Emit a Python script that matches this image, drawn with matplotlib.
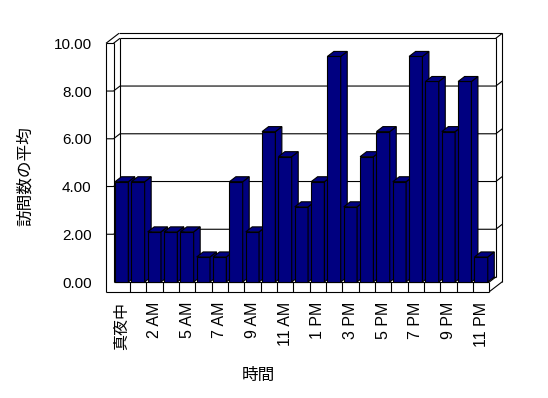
import matplotlib
matplotlib.use('Agg')
import matplotlib.pyplot as plt
from matplotlib.patches import Polygon

plt.rcParams['font.family'] = ['Liberation Sans', 'Noto Sans CJK JP']

hours = ['真夜中', '1 AM', '2 AM', '3 AM', '5 AM', '6 AM', '7 AM', '8 AM', '9 AM',
         '10 AM', '11 AM', '正午', '1 PM', '2 PM', '3 PM', '4 PM', '5 PM', '6 PM',
         '7 PM', '8 PM', '9 PM', '10 PM', '11 PM']
visits = [4.2, 4.2, 2.1, 2.1, 2.1, 1.05, 1.05, 4.2, 2.1, 6.3, 5.25, 3.15,
          4.2, 9.45, 3.15, 5.25, 6.3, 4.2, 9.45, 8.4, 6.3, 8.4, 1.05]
y_ticks = [0, 2, 4, 6, 8, 10]

W, H = 548, 398
fig = plt.figure(figsize=(W / 100, H / 100), dpi=100)
fig.patch.set_facecolor('white')

# plot area in pixels (front plane)
x0_px, x1_px = 113.5, 489.3
y0_px, y1_px = 282.0, 43.3
ax = fig.add_axes([x0_px / W, (H - y0_px) / H, (x1_px - x0_px) / W, (y0_px - y1_px) / H])
n = len(hours)
ymax = 10
ax.set_xlim(-0.5, n - 0.5)
ax.set_ylim(0, ymax)
for s in ax.spines.values():
    s.set_visible(False)
ax.set_facecolor('none')

cat_px = (x1_px - x0_px) / n
val_px = (y0_px - y1_px) / ymax
DX = 6.5 / cat_px      # depth offset, data units
DY = 5.0 / val_px
WALL = 7.5 / cat_px    # left wall thickness
FLOOR = 9.7 / val_px   # floor thickness
xl, xr = -0.5, n - 0.5
lw = 0.8
kw = dict(color='black', lw=lw, clip_on=False, zorder=1, solid_capstyle='butt')


def line(xs, ys):
    ax.plot(xs, ys, **kw)


# left wall
line([xl - WALL, xl - WALL], [-FLOOR, ymax])
line([xl, xl], [0, ymax])
line([xl - WALL, xl], [ymax, ymax])
line([xl - WALL, xl - WALL + 2 * DX], [ymax, ymax + 2 * DY])
line([xl, xl + DX], [ymax, ymax + DY])
line([xl + DX, xl + DX], [DY, ymax + DY])
# back wall
line([xl - WALL + 2 * DX, xr + 2 * DX], [ymax + 2 * DY, ymax + 2 * DY])
line([xl + DX, xr + DX], [ymax + DY, ymax + DY])
line([xr + DX, xr + DX], [DY, ymax + DY])
line([xr + 2 * DX, xr + 2 * DX], [-FLOOR + 2 * DY, ymax + 2 * DY])
line([xr + DX, xr + 2 * DX], [ymax + DY, ymax + 2 * DY])
line([xl + DX, xr + DX], [DY, DY])
# floor
line([xl - WALL, xr], [-FLOOR, -FLOOR])
line([xl, xr], [0, 0])
line([xr, xr], [-FLOOR, 0])
line([xr, xr + 2 * DX], [-FLOOR, -FLOOR + 2 * DY])
line([xr, xr + DX], [0, DY])
for i in range(n - 1):
    line([i + 0.5, i + 0.5], [-FLOOR, 0])

# gridlines
for v in y_ticks[1:-1]:
    line([xl - WALL, xl, xl + DX, xr + DX, xr + 2 * DX],
         [v, v, v + DY, v + DY, v + 2 * DY])

# bars
bw = 0.815
bars = ax.bar(range(n), visits, width=bw, color='#000080', edgecolor='black',
              linewidth=lw, clip_on=False)
for i, (b, h) in enumerate(zip(bars, visits)):
    z = 2 + i * 0.01
    b.set_zorder(z)
    l = b.get_x()
    r = l + b.get_width()
    side = Polygon([(r, 0), (r, h), (r + DX, h + DY), (r + DX, DY)], closed=True,
                   facecolor='#000080', edgecolor='black', lw=lw, zorder=z, clip_on=False)
    top = Polygon([(l, h), (r, h), (r + DX, h + DY), (l + DX, h + DY)], closed=True,
                  facecolor='#000080', edgecolor='black', lw=lw, zorder=z, clip_on=False)
    ax.add_patch(side)
    ax.add_patch(top)

# ticks and labels
ax.set_yticks(y_ticks)
ax.set_yticklabels([f'{v:.2f}' for v in y_ticks], fontsize=11)
ax.set_xticks(range(0, n, 2))
ax.set_xticklabels(hours[::2], rotation=90, fontsize=11.5)
ax.tick_params(axis='y', length=0, pad=15.7)
ax.tick_params(axis='x', length=0, pad=14.4)

ax.set_xlabel('時間', fontsize=12)
ax.xaxis.set_label_coords((258 - x0_px) / (x1_px - x0_px), (y0_px - 375) / (y0_px - y1_px))
ax.xaxis.label.set_va('center')
ax.set_ylabel('訪問数の平均', fontsize=12)
ax.yaxis.set_label_coords((25 - x0_px) / (x1_px - x0_px), (y0_px - 176) / (y0_px - y1_px))
ax.yaxis.label.set_va('center')
ax.yaxis.label.set_ha('center')

fig.savefig('out.png', dpi=100, facecolor='white')
